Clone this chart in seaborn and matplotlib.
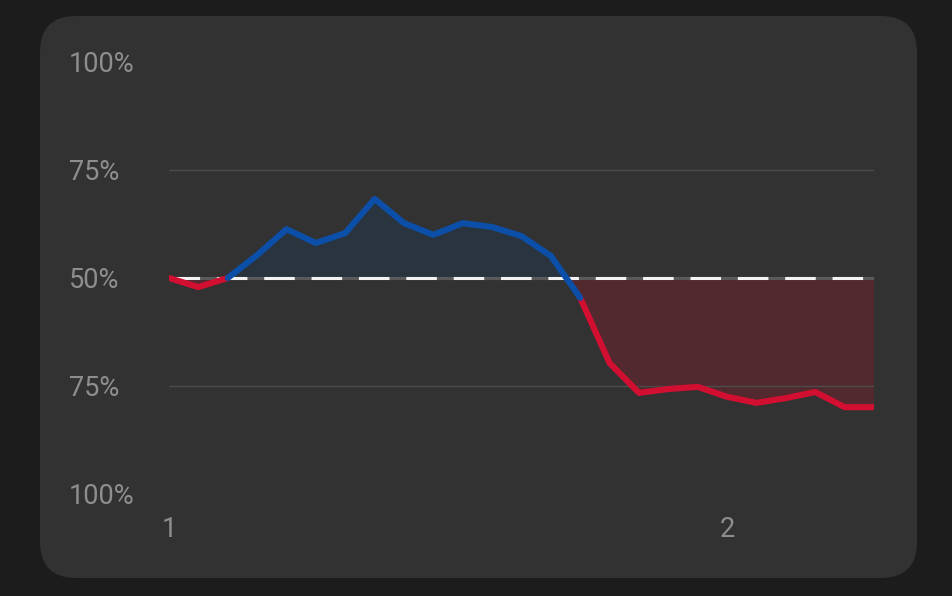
import numpy as np
import pandas as pd
import seaborn as sns
import matplotlib.pyplot as plt
from matplotlib.patches import FancyBboxPatch

# Win probability (%) for the blue side, one value per step
steps = list(range(25))
win_prob = [50, 47.9, 50, 55.3, 61.3, 58.1, 60.4, 68.3, 62.7, 60.0, 62.7, 61.8, 59.7,
            55.1, 45.4, 30.3, 23.4, 24.3, 24.8, 22.5, 21.1, 22.2, 23.6, 20.1, 20.1]
y_ticks = [100, 75, 50, 25, 0]
y_tick_labels = ["100%", "75%", "50%", "75%", "100%"]
x_ticks = [0, 19]
x_tick_labels = ["1", "2"]

blue = "#0b4fa8"
red = "#d20f30"
blue_fill = "#29343f"
red_fill = "#52292f"
panel = "#323232"
text_col = "#8e8e8e"

# colour each segment by the side its start point is on
rows = []
seg = -1
prev_side = None
for i in range(len(steps) - 1):
    y0, y1 = win_prob[i], win_prob[i + 1]
    ref = y0 if y0 != 50 else y1
    side = "blue" if ref > 50 else "red"
    if side != prev_side:
        seg += 1
        rows.append((steps[i], y0, seg, side))
        prev_side = side
    rows.append((steps[i + 1], y1, seg, side))
df = pd.DataFrame(rows, columns=["step", "prob", "seg", "side"])

sns.set_theme(style="dark")
plt.rcParams["font.family"] = ["Roboto", "DejaVu Sans"]

fig = plt.figure(figsize=(9.52, 5.96), dpi=100)
fig.patch.set_facecolor("#1c1c1c")
fig.patches.append(FancyBboxPatch((40 / 952, 1 - 578 / 596), 877 / 952, 562 / 596,
                                  boxstyle="round,pad=0,rounding_size=0.038",
                                  transform=fig.transFigure, facecolor=panel,
                                  edgecolor="none", zorder=-5, mutation_aspect=952 / 596))
ax = fig.add_axes([169 / 952, 1 - 494 / 596, 705 / 952, 432 / 596])
ax.set_facecolor("none")
ax.patch.set_alpha(0)

xs = np.array(steps, dtype=float)
ys = np.array(win_prob)
ax.fill_between(xs, ys, 50, where=ys >= 50, interpolate=True, color=blue_fill, lw=0, zorder=1)
ax.fill_between(xs, ys, 50, where=ys <= 50, interpolate=True, color=red_fill, lw=0, zorder=1)

for yg in [75, 25]:
    ax.axhline(yg, color="#4c4c4c", lw=1, zorder=2)
ax.axhline(50, color="#5a5a5a", lw=2.2, zorder=2)
ax.axhline(50, color="#f2f2f2", lw=2.2, dashes=(10, 5.5), zorder=3)

sns.lineplot(data=df, x="step", y="prob", hue="side", units="seg", estimator=None,
             palette={"blue": blue, "red": red}, lw=4.4, legend=False, ax=ax,
             solid_capstyle="round", solid_joinstyle="round", zorder=4)

ax.set_xlim(0, 24)
ax.set_ylim(0, 100)
ax.set_yticks(y_ticks)
ax.set_yticklabels(y_tick_labels)
ax.set_xticks(x_ticks)
ax.set_xticklabels(x_tick_labels)
ax.tick_params(axis="y", length=0, pad=72, labelsize=19.5, labelcolor=text_col)
ax.tick_params(axis="x", length=0, pad=16, labelsize=19.5, labelcolor=text_col)
for lab in ax.get_yticklabels():
    lab.set_horizontalalignment("left")
ax.set_xlabel("")
ax.set_ylabel("")
ax.grid(False)
for s in ax.spines.values():
    s.set_visible(False)

plt.savefig("out.png", dpi=100, facecolor=fig.get_facecolor())
